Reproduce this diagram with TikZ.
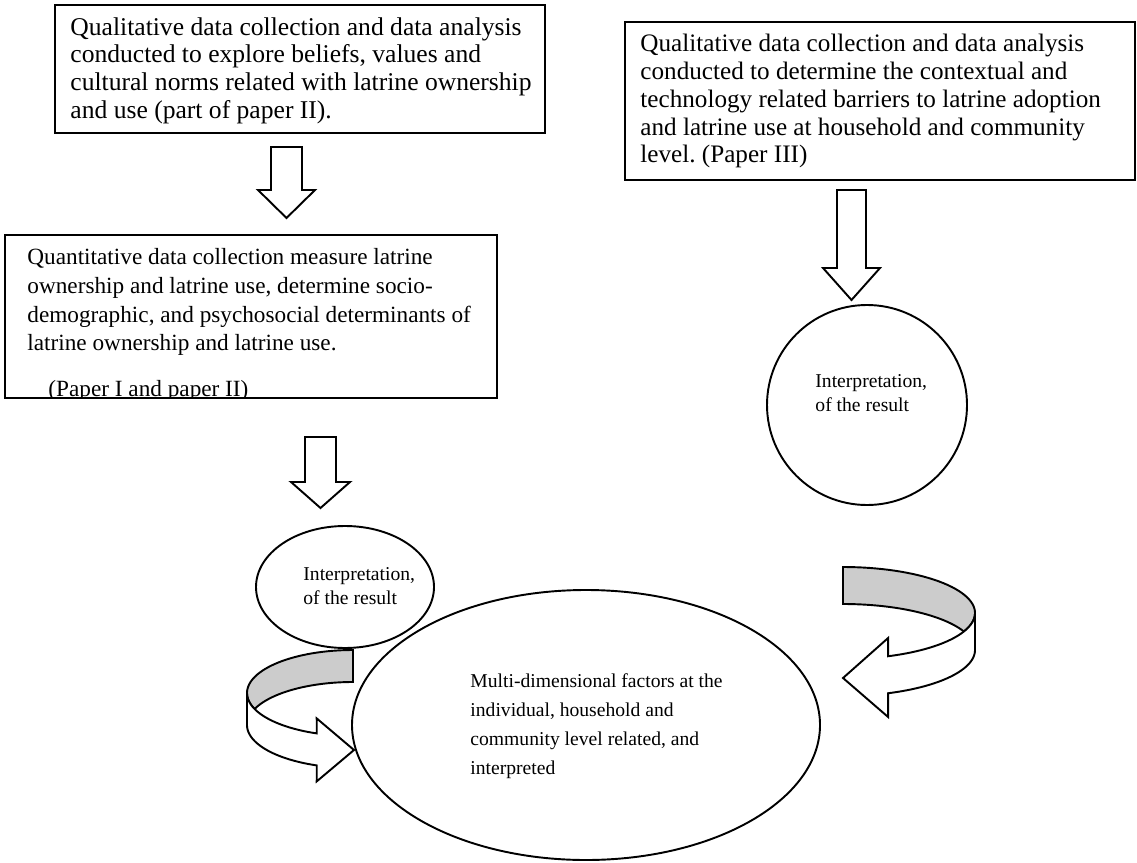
\documentclass[tikz,border=0pt]{standalone}
\usepackage{fontspec}
\setmainfont{Liberation Serif}
\frenchspacing
\definecolor{bandgray}{gray}{0.8}
\begin{document}
\begin{tikzpicture}[x=0.469pt,y=-0.469pt,
  outl/.style={line width=0.9pt, line join=miter},
  blockarrow/.style={outl, fill=white},
  boxtxt/.style={anchor=north west, inner sep=0pt, align=left, font=\fontsize{12}{13}\selectfont},
  boxtxtb/.style={anchor=north west, inner sep=0pt, align=left, font=\fontsize{11.8}{13}\selectfont},
  boxtxtc/.style={anchor=north west, inner sep=0pt, align=left, font=\fontsize{10.9}{13.5}\selectfont},
  elltxt/.style={anchor=north west, inner sep=0pt, align=left, font=\fontsize{9.2}{11.3}\selectfont},
  bigtxt/.style={anchor=north west, inner sep=0pt, align=left, font=\fontsize{9.2}{13.6}\selectfont}]
\useasboundingbox (0,0) rectangle (1137,862);

% ---- boxes
\coordinate (b1nw) at (55,5);   \coordinate (b1se) at (545,133);
\coordinate (b2nw) at (625,22); \coordinate (b2se) at (1135,180);
\coordinate (b3nw) at (5,235);  \coordinate (b3se) at (497,398);
\draw[outl] (b1nw) rectangle (b1se);
\draw[outl] (b2nw) rectangle (b2se);
\draw[outl] (b3nw) rectangle (b3se);

\node[boxtxt] (t1) at (70,17) {Qualitative data collection and data analysis\\
conducted to explore beliefs, values and\\
cultural norms related with latrine ownership\\
and use (part of paper II).};

\node[boxtxtb] (t2) at (640,34) {Qualitative data collection and data analysis\\
conducted to determine the contextual and\\
technology related barriers to latrine adoption\\
and latrine use at household and community\\
level. (Paper III)};

\node[boxtxtc] (t3) at (27,248) {Quantitative data collection measure latrine\\
ownership and latrine use, determine socio-\\
demographic, and psychosocial determinants of\\
latrine ownership and latrine use.};

\begin{scope}
\clip (b3nw) rectangle (b3se);
\node[boxtxtc, anchor=base west] (t3b) at (48,396) {(Paper I and paper II)};
\end{scope}

% ---- straight block arrows
\draw[blockarrow] (271,147) -- (302,147) -- (302,190) -- (315,190) -- (286.5,218) -- (258,190) -- (271,190) -- cycle;
\draw[blockarrow] (837,190) -- (866,190) -- (866,268) -- (880,268) -- (851.5,300) -- (823,268) -- (837,268) -- cycle;
\draw[blockarrow] (305,437) -- (336,437) -- (336,482) -- (350,482) -- (320.5,508) -- (291,482) -- (305,482) -- cycle;

% ---- interpretation shapes
\coordinate (e1c) at (345,587);
\draw[outl] (e1c) ellipse [x radius=89, y radius=61];
\node[elltxt] (e1t) at (303,567) {Interpretation,\\ of the result};

\coordinate (cc) at (867,405);
\draw[outl] (cc) circle [radius=100];
\node[elltxt] (ct) at (815,374) {Interpretation,\\ of the result};

\coordinate (e2c) at (586,725);
\draw[outl] (e2c) ellipse [x radius=234, y radius=135];
\node[bigtxt] (e2t) at (470,673) {Multi-dimensional factors at the\\
individual, household and\\
community level related, and\\
interpreted};

% ---- left curved arrow
\filldraw[outl, fill=bandgray]
  plot[domain=90:199.4, samples=40, variable=\t] ({353+106*cos(\t)},{693-43*sin(\t)})
  -- plot[domain=158.5:90, samples=40, variable=\t] ({353+106*cos(\t)},{725-43*sin(\t)})
  -- cycle;
\filldraw[outl, fill=white]
  plot[domain=180:250, samples=40, variable=\t] ({353+106*cos(\t)},{693-43*sin(\t)})
  -- (316.7,718.4) -- (354,750) -- (316.7,781.4)
  -- plot[domain=250:180, samples=40, variable=\t] ({353+106*cos(\t)},{725-43*sin(\t)})
  -- cycle;

% ---- right curved arrow
\filldraw[outl, fill=bandgray]
  plot[domain=90:-23.6, samples=40, variable=\t] ({843+132*cos(\t)},{613-46*sin(\t)})
  -- plot[domain=23.6:90, samples=40, variable=\t] ({843+132*cos(\t)},{650-46*sin(\t)})
  -- cycle;
\filldraw[outl, fill=white]
  plot[domain=0:-70, samples=40, variable=\t] ({843+132*cos(\t)},{613-46*sin(\t)})
  -- (888.1,638) -- (843,678) -- (888.1,717)
  -- plot[domain=-70:0, samples=40, variable=\t] ({843+132*cos(\t)},{650-46*sin(\t)})
  -- cycle;
\end{tikzpicture}
\end{document}
